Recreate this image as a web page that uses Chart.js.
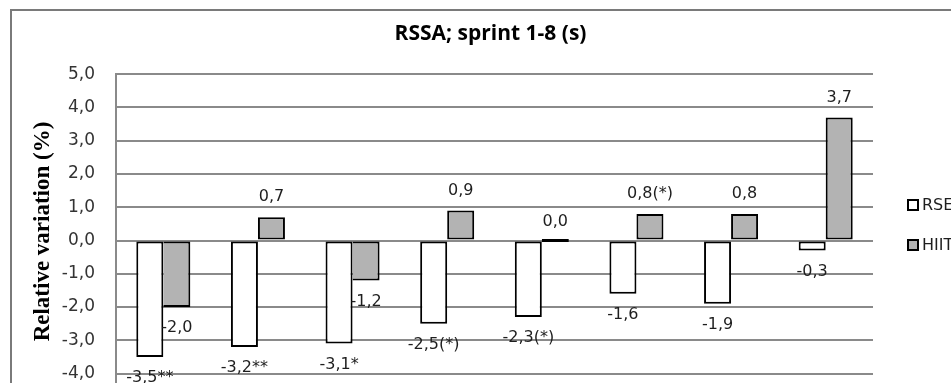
<!DOCTYPE html>
<html>
<head>
<meta charset="utf-8">
<script src="https://cdn.jsdelivr.net/npm/chart.js@4/dist/chart.umd.min.js"></script>
<style>
  html, body { margin: 0; padding: 0; background: #fff; width: 951px; height: 383px; overflow: hidden; }
  #wrap { position: absolute; left: 0; top: 0; width: 981px; height: 438px; }
  canvas { display: block; }
</style>
</head>
<body>
<div id="wrap"><canvas id="chart" width="981" height="438"></canvas></div>
<script>
// Sprint categories and relative variation (%) per group
const categories = ['Sprint 1', 'Sprint 2', 'Sprint 3', 'Sprint 4', 'Sprint 5', 'Sprint 6', 'Sprint 7', 'Sprint 8'];
const seriesNames = ['RSE', 'HIIT'];
const rseValues  = [-3.5, -3.2, -3.1, -2.5, -2.3, -1.6, -1.9, -0.3];
const hiitValues = [-2.0, 0.7, -1.2, 0.9, 0.0, 0.8, 0.8, 3.7];
// Value labels with significance markers
const rseLabels  = ['-3,5**', '-3,2**', '-3,1*', '-2,5(*)', '-2,3(*)', '-1,6', '-1,9', '-0,3'];
const hiitLabels = ['-2,0', '0,7', '-1,2', '0,9', '0,0', '0,8(*)', '0,8', '3,7'];
const yMin = -5, yMax = 5, yStep = 1;
const chartTitle = 'RSSA; sprint 1-8 (s)';
const yAxisTitle = 'Relative variation (%)';

const GRID = '#8a8a8a';
const TEXT_FONT = 'DejaVu Sans';

const fmt = v => v.toFixed(1).replace('.', ',').replace('-0,0', '0,0');

// White background and the outer chart frame
const framePlugin = {
  id: 'frame',
  beforeDraw(chart) {
    const ctx = chart.ctx;
    ctx.save();
    ctx.fillStyle = '#fff';
    ctx.fillRect(0, 0, chart.width, chart.height);
    ctx.strokeStyle = '#7a7a7a';
    ctx.lineWidth = 2;
    ctx.strokeRect(11, 10, chart.width + 50, chart.height + 50);
    ctx.restore();
  }
};

// Rotated y-axis title beside the tick labels
const yTitlePlugin = {
  id: 'yTitle',
  afterDraw(chart) {
    const ctx = chart.ctx;
    const area = chart.chartArea;
    ctx.save();
    ctx.translate(43, (area.top + area.bottom) / 2 - 9);
    ctx.rotate(-Math.PI / 2);
    ctx.font = 'bold 23px "Liberation Serif"';
    ctx.fillStyle = '#000';
    ctx.textAlign = 'center';
    ctx.textBaseline = 'middle';
    ctx.fillText(yAxisTitle, 0, 0);
    ctx.restore();
  }
};

// Value labels at the end of each bar
const valueLabelPlugin = {
  id: 'valueLabels',
  afterDatasetsDraw(chart) {
    const ctx = chart.ctx;
    const labelSets = [rseLabels, hiitLabels];
    ctx.save();
    ctx.font = '16px "' + TEXT_FONT + '"';
    ctx.fillStyle = '#1e1e1e';
    ctx.textAlign = 'center';
    ctx.textBaseline = 'middle';
    chart.data.datasets.forEach((ds, di) => {
      const meta = chart.getDatasetMeta(di);
      meta.data.forEach((bar, i) => {
        const v = ds.data[i];
        const y = v < 0 ? bar.y + 21 : bar.y - 20;
        ctx.fillText(labelSets[di][i], bar.x, y);
      });
    });
    ctx.restore();
  }
};

// Legend on the right of the plot area
const sideLegendPlugin = {
  id: 'sideLegend',
  afterDraw(chart) {
    const ctx = chart.ctx;
    const area = chart.chartArea;
    const x = area.right + 34;
    ctx.save();
    ctx.font = '16px "' + TEXT_FONT + '"';
    ctx.textBaseline = 'middle';
    ctx.textAlign = 'left';
    chart.data.datasets.forEach((ds, i) => {
      const y = 205 + i * 40;
      ctx.fillStyle = ds.backgroundColor;
      ctx.fillRect(x, y - 6, 12, 12);
      ctx.strokeStyle = '#000';
      ctx.lineWidth = 2;
      ctx.strokeRect(x + 1, y - 5, 10, 10);
      ctx.fillStyle = '#1e1e1e';
      ctx.fillText(ds.label, x + 15, y + 1);
    });
    ctx.restore();
  }
};

// Where both bars of a pair point down and the grey one is shorter,
// let it share the white bar's outline instead of doubling it
const sharedEdge = ctx => {
  const i = ctx.dataIndex;
  const h = hiitValues[i], r = rseValues[i];
  return (h < 0 && r < 0 && Math.abs(h) <= Math.abs(r)) ? 'left' : false;
};

new Chart(document.getElementById('chart'), {
  type: 'bar',
  data: {
    labels: categories,
    datasets: [
      {
        label: seriesNames[0],
        data: rseValues,
        backgroundColor: '#ffffff',
        borderColor: '#000000',
        borderWidth: 2,
        borderSkipped: false,
        categoryPercentage: 0.571,
        barPercentage: 1.0
      },
      {
        label: seriesNames[1],
        data: hiitValues,
        backgroundColor: '#b3b3b3',
        borderColor: '#000000',
        borderWidth: 2,
        borderSkipped: sharedEdge,
        minBarLength: 3,
        categoryPercentage: 0.571,
        barPercentage: 1.0
      }
    ]
  },
  options: {
    responsive: false,
    devicePixelRatio: 1,
    animation: false,
    layout: { padding: { left: 0, right: 0, top: 0, bottom: 14 } },
    plugins: {
      legend: { display: false },
      tooltip: { enabled: false },
      title: {
        display: true,
        text: chartTitle,
        color: '#000',
        font: { family: 'Open Sans', size: 21, weight: 'bold' },
        padding: { top: 21, bottom: 28 }
      }
    },
    scales: {
      x: { display: false },
      y: {
        min: yMin,
        max: yMax,
        afterFit(scale) { scale.width = 116; },
        ticks: {
          stepSize: yStep,
          padding: 21,
          color: '#333',
          font: { family: TEXT_FONT, size: 17 },
          callback: v => fmt(v)
        },
        grid: { color: GRID, lineWidth: 2, drawTicks: false },
        border: { display: true, color: GRID, width: 2 },
        title: { display: false }
      },
      spacer: {
        type: 'linear',
        position: 'right',
        display: true,
        afterFit(scale) { scale.width = 108; },
        ticks: { display: false },
        grid: { display: false, drawTicks: false },
        border: { display: false }
      }
    }
  },
  plugins: [framePlugin, valueLabelPlugin, sideLegendPlugin, yTitlePlugin]
});
</script>
</body>
</html>
